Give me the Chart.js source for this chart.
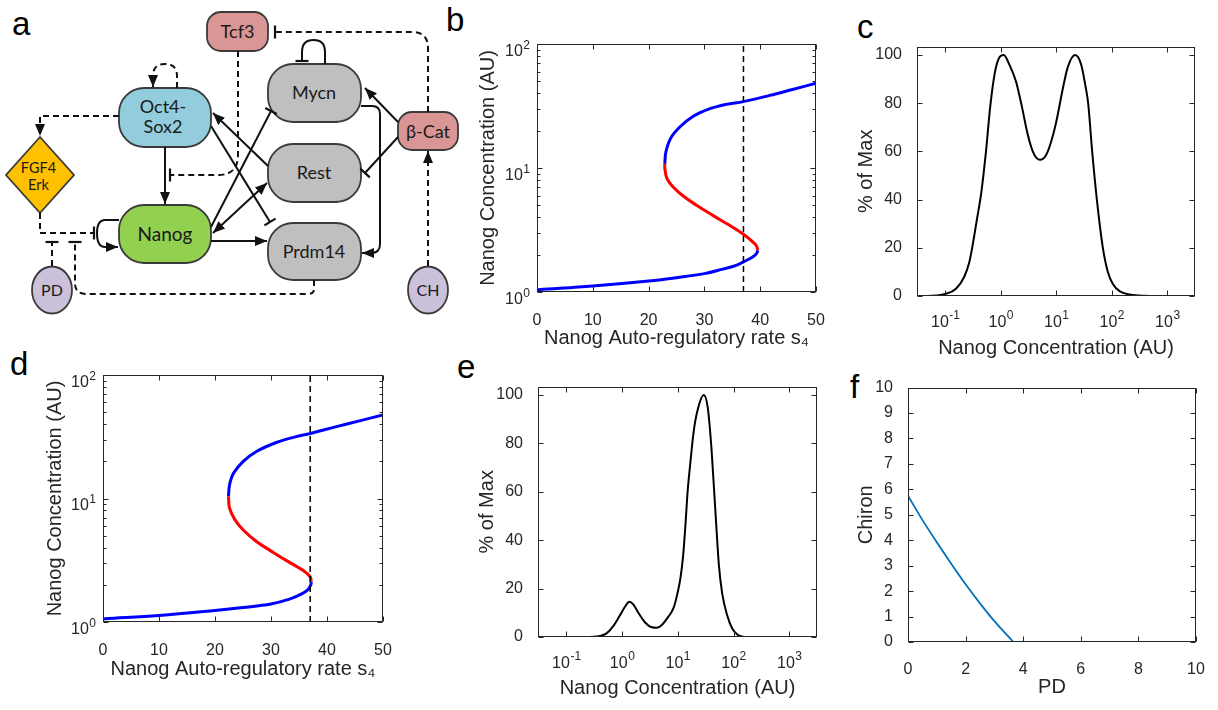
<!DOCTYPE html>
<html><head><meta charset="utf-8">
<script src="https://cdn.jsdelivr.net/npm/chart.js@4/dist/chart.umd.min.js"></script>
<style>
body{margin:0;background:#fff;width:1218px;height:710px;position:relative;overflow:hidden;font-family:"Liberation Sans",Arial,sans-serif}
canvas{position:absolute}
.lbl{position:absolute;font-family:"Liberation Sans",Arial,sans-serif;font-size:33px;color:#000;line-height:33px}
svg{position:absolute;left:0;top:0}
svg text{font-family:Lato,"Open Sans",sans-serif;fill:#1a1a1a;text-anchor:middle}
</style></head><body>
<div class="lbl" style="left:12px;top:7px">a</div>
<div class="lbl" style="left:446px;top:3px">b</div>
<div class="lbl" style="left:857px;top:10px">c</div>
<div class="lbl" style="left:10px;top:347px">d</div>
<div class="lbl" style="left:457px;top:350px">e</div>
<div class="lbl" style="left:850px;top:370px">f</div>

<svg width="470" height="330" viewBox="0 0 470 330">
<defs>
<marker id="ar" markerWidth="13" markerHeight="12" refX="12" refY="6" orient="auto-start-reverse" markerUnits="userSpaceOnUse"><path d="M0,1 L12,6 L0,11 z" fill="#111"/></marker>
<marker id="tb" markerWidth="4" markerHeight="15" refX="2" refY="7.5" orient="auto" markerUnits="userSpaceOnUse"><path d="M2,1 L2,14" stroke="#111" stroke-width="2.2"/></marker>
</defs>
<g stroke="#3a3a3a" stroke-width="1.8">
<rect x="207" y="12" width="61" height="39" rx="14" fill="#d99694"/>
<rect x="119" y="88" width="92" height="59" rx="25" fill="#93cddd"/>
<rect x="268" y="64" width="93" height="58" rx="25" fill="#bfbfbf"/>
<rect x="268" y="144" width="93" height="58" rx="25" fill="#bfbfbf"/>
<rect x="268" y="223" width="93" height="57" rx="25" fill="#bfbfbf"/>
<rect x="119" y="205" width="92" height="58" rx="25" fill="#92d050"/>
<rect x="398" y="112" width="60" height="38" rx="14" fill="#d99694"/>
<polygon points="40,137 74,175 40,213 6,175" fill="#ffc000"/>
<ellipse cx="52" cy="290" rx="20" ry="23.5" fill="#ccc1da"/>
<ellipse cx="428" cy="290" rx="20" ry="23.5" fill="#ccc1da"/>
</g>
<g fill="none" stroke="#111" stroke-width="2">
<path d="M165,147 L165,204" marker-end="url(#ar)"/>
<path d="M211,241 L267,241" marker-end="url(#ar)"/>
<path d="M211,227 L271,111" marker-end="url(#tb)"/>
<path d="M213,233 L267,183" marker-start="url(#ar)" marker-end="url(#ar)"/>
<path d="M268,166 L213,113" marker-end="url(#ar)"/>
<path d="M211,126 L270,222" marker-end="url(#tb)"/>
<path d="M361,106 L372,106 Q380,106 380,114 L380,244 Q380,253 371,253 L362,253" marker-end="url(#ar)"/>
<path d="M325,64 L325,52 Q325,40 313.5,40 Q302,40 302,52 L302,61" marker-end="url(#tb)"/>
<path d="M398,122 L365,88" marker-end="url(#ar)"/>
<path d="M398,137 L365,173" marker-end="url(#tb)"/>
<path d="M119,220 L105,220 Q97,220 97,233 Q97,247 105,247 L118,247" marker-end="url(#ar)"/>
</g>
<g fill="none" stroke="#111" stroke-width="2" stroke-dasharray="6 4">
<path d="M238,51 L238,155 Q238,175 218,175 L170,175" marker-end="url(#tb)"/>
<path d="M177,88 L177,76 Q177,64 165,64 Q153,64 153,76 L153,87" marker-end="url(#ar)"/>
<path d="M119,116 L40,116 L40,136" marker-end="url(#ar)"/>
<path d="M40,213 L40,233 L94,233" marker-end="url(#tb)"/>
<path d="M52,266 L52,242" marker-end="url(#tb)"/>
<path d="M314,280 L314,289 Q314,294 308,294 L86,294 Q75,294 75,283 L75,242" marker-end="url(#tb)"/>
<path d="M428,112 L428,48 Q428,32 412,32 L275,32" marker-end="url(#tb)"/>
<path d="M428,266 L428,151" marker-end="url(#ar)"/>
</g>
<text x="237.5" y="38" font-size="18">Tcf3</text>
<text x="163" y="113" font-size="18">Oct4-</text>
<text x="163" y="133" font-size="18">Sox2</text>
<text x="314" y="99" font-size="18">Mycn</text>
<text x="314" y="179" font-size="18">Rest</text>
<text x="314" y="258" font-size="18">Prdm14</text>
<text x="165" y="241" font-size="19">Nanog</text>
<text x="428" y="138" font-size="18">β-Cat</text>
<text x="38.5" y="173" font-size="14.5">FGF4</text>
<text x="38.5" y="190" font-size="14.5">Erk</text>
<text x="52" y="296" font-size="16">PD</text>
<text x="428" y="296" font-size="16">CH</text>
</svg>

<script>
// ---------- DATA ----------
// panel b : bifurcation (s4 vs Nanog)
const bLowS  = [0, 0.3, 10, 20, 25, 30, 33.3, 35.7, 37.0, 38.5, 39.3, 39.6];
const bLowN  = [1.04, 1.044, 1.118, 1.227, 1.305, 1.406, 1.53, 1.64, 1.75, 1.90, 2.03, 2.17];
const bMidS  = [39.6, 39.2, 37.0, 34.5, 31.5, 28.6, 26.2, 24.4, 23.3, 22.9, 22.9];
const bMidN  = [2.17, 2.40, 2.92, 3.45, 4.15, 5.0, 5.94, 7.03, 8.2, 10.0, 10.8];
const bHighS = [22.9, 23.1, 24.0, 25.6, 28.0, 31.0, 33.9, 37.0, 41.7, 45.8, 50];
const bHighN = [10.8, 13.5, 17.5, 21.4, 26.1, 30.1, 32.6, 34.3, 38.5, 43.0, 48.2];
const bDash  = 37;
// panel d
const dLowS  = [0, 0.3, 10, 20, 25, 30, 33.3, 35.4, 36.6, 37.1, 37.2];
const dLowN  = [1.06, 1.064, 1.13, 1.24, 1.31, 1.40, 1.53, 1.68, 1.83, 2.0, 2.13];
const dMidS  = [37.2, 37.0, 35.7, 33.3, 30.4, 27.4, 25.0, 23.5, 22.6, 22.4];
const dMidN  = [2.13, 2.32, 2.62, 3.04, 3.66, 4.49, 5.58, 6.81, 8.36, 10.4];
const dHighS = [22.4, 22.6, 23.3, 25.0, 27.4, 30.95, 34.5, 37.2, 41.7, 45.8, 50];
const dHighN = [10.4, 12.9, 16.0, 19.9, 24.0, 28.4, 31.7, 33.8, 38.2, 42.5, 47.5];
const dDash  = 37;
// panel c : distribution (bimodal)
const cConc = [0.040,0.068,0.100,0.156,0.220,0.271,0.311,0.367,0.440,0.492,0.542,0.649,0.787,0.942,1.13,1.43,1.88,2.38,3.06,3.77,4.40,5.11,6.56,8.07,9.93,13.1,16.1,21.9,28.1,33.6,37.5,44.3,53.8,69.0,84.9,104.6,138,209,364,959];
const cPct  = [0,0.2,0.8,3,8,14,21,31,42,51,60,79,93,99,100,96,89,79,67,60,57.3,56.5,58.5,64,72,86,95,100,96,87,80,60,40,20,10,5,2,0.6,0.1,0];
// panel e : distribution (mostly high)
const eConc = [0.264,0.399,0.527,0.695,0.917,1.127,1.35,1.59,1.96,2.59,3.41,4.21,5.18,6.82,8.40,9.64,11.1,12.4,13.6,15.0,16.8,19.3,22.8,29.2,34.4,39.6,44.2,49.4,54.5,62.6,76.9,94.8,117,154];
const ePct  = [0,0.4,1.5,4.5,9,12.5,14.6,13.5,10,6,4,3.8,5,8.5,12,17,24,33,45,60,72,85,94,100,95,80,63,45,30,18,9,3.5,1,0];
// panel f
const fPD     = [0, 0.5, 1.0, 1.5, 2.0, 2.5, 3.0, 3.66];
const fChiron = [5.75, 4.8, 3.92, 3.08, 2.27, 1.52, 0.82, 0];
// tick labels
const linTicks50 = [0,10,20,30,40,50];
const logDecades = [0.1,1,10,100,1000];
const logDecadeExp = ['-1','0','1','2','3'];
const pctTicks = [0,20,40,60,80,100];
const fXTicks = [0,2,4,6,8,10];
const fYTicks = [0,1,2,3,4,5,6,7,8,9,10];
const bifYTicks = [1,2,3,4,5,6,7,8,9,10,20,30,40,50,60,70,80,90,100];
const bifYExp = {1:'0',10:'1',100:'2'};

// ---------- helpers ----------
const TXT = '#262626';
const FONT = "'Liberation Sans', Arial, Helvetica, sans-serif";
const pts = (xs, ys) => xs.map((x,i)=>({x, y: ys[i]}));

// draws box, inward tick marks, and "10^n" style tick labels with real superscripts
const boxPlugin = {
  id: 'boxTicks',
  afterDatasetsDraw(chart) {
    const {ctx, chartArea: a} = chart;
    const L = Math.round(a.left)+0.5, R = Math.round(a.right)-0.5;
    const T = Math.round(a.top)+0.5, B = Math.round(a.bottom)-0.5;
    ctx.save();
    ctx.strokeStyle = TXT; ctx.lineWidth = 1;
    const ln = (x1,y1,x2,y2)=>{ctx.beginPath();ctx.moveTo(x1,y1);ctx.lineTo(x2,y2);ctx.stroke();};
    const xs = chart.scales.x, ys = chart.scales.y;
    xs.ticks.forEach(t=>{ const p = Math.round(xs.getPixelForValue(t.value))+0.5; const len = t.mn?3:5;
      ln(p,B,p,B-len); ln(p,T,p,T+len); });
    ys.ticks.forEach(t=>{ const p = Math.round(ys.getPixelForValue(t.value))+0.5; const len = t.mn?3:5;
      ln(L,p,L+len,p); ln(R,p,R-len,p); });
    ctx.strokeRect(L, T, R-L, B-T);
    // power-of-ten labels
    ctx.fillStyle = TXT; ctx.textBaseline = 'alphabetic';
    const baseF = '16px ' + FONT, expF = '12px ' + FONT;
    if (chart.$supX) {
      xs.ticks.forEach(t=>{ if (t.ex === undefined) return;
        const p = xs.getPixelForValue(t.value);
        ctx.font = baseF; const w1 = ctx.measureText('10').width;
        ctx.font = expF; const w2 = ctx.measureText(t.ex).width;
        const x0 = p - (w1+w2)/2;
        ctx.textAlign = 'left';
        ctx.font = baseF; ctx.fillText('10', x0, a.bottom + 31);
        ctx.font = expF; ctx.fillText(t.ex, x0 + w1 + 0.5, a.bottom + 23);
      });
    }
    if (chart.$supY) {
      ys.ticks.forEach(t=>{ if (t.ex === undefined) return;
        const p = ys.getPixelForValue(t.value);
        ctx.font = expF; const w2 = ctx.measureText(t.ex).width;
        const xr = a.left - 7;
        ctx.textAlign = 'right';
        ctx.fillText(t.ex, xr, p + 4.5);
        ctx.font = baseF; ctx.fillText('10', xr - w2 - 0.5, p + 11.7);
      });
    }
    ctx.restore();
  }
};

function makeChart(rect, m, datasets, xo, yo) {
  const [L,T,R,B] = rect;
  const W = R-L+m.l+m.r, H = B-T+m.t+m.b;
  const c = document.createElement('canvas');
  c.width = W; c.height = H;
  Object.assign(c.style, {left:(L-m.l)+'px', top:(T-m.t)+'px', width:W+'px', height:H+'px'});
  document.body.appendChild(c);
  const mk = (o, isX) => ({
    type: o.type, min: o.min, max: o.max, bounds: 'data',
    grid: {display:false}, border: {display:false},
    title: {display:true, text:o.title, color:TXT, font:{family:FONT, size:20}, padding:0},
    ticks: {display: !o.sup, color:TXT, font:{family:FONT, size:16}, padding:o.pad, autoSkip:false,
            maxRotation:0, minRotation:0,
            callback:(v,i,ts)=>ts[i].lab},
    afterBuildTicks: s => { s.ticks = o.ticks.map(t=>({value:t.v, lab:t.l, mn:t.mn, ex:t.ex})); },
    afterFit: s => { if (isX) s.height = m.b; else s.width = m.l; }
  });
  const ch = new Chart(c, {
    type: 'scatter',
    data: {datasets},
    options: {
      responsive:false, animation:false,
      layout:{padding:{left:0, top:m.t, right:m.r, bottom:0}},
      plugins:{legend:{display:false}, tooltip:{enabled:false}},
      elements:{point:{radius:0, hoverRadius:0}},
      scales:{x:mk(xo,true), y:mk(yo,false)}
    },
    plugins:[{id:'flags', beforeInit(chart){ chart.$supX = !!xo.sup; chart.$supY = !!yo.sup; }}, boxPlugin]
  });
  return ch;
}

const line = (data, color, w, extra) => Object.assign({data, showLine:true, borderColor:color, backgroundColor:color,
  borderWidth:w, tension:0.38, fill:false, pointRadius:0}, extra||{});
const mono = {cubicInterpolationMode:'monotone'};

const linTickObjs = arr => arr.map(v=>({v, l:String(v)}));
const bifY = bifYTicks.map(v=>({v, l:'', mn:!(v in bifYExp), ex:bifYExp[v]}));
const decX = logDecades.map((v,i)=>({v, l:'', ex:logDecadeExp[i]}));
const s4Title = 'Nanog Auto-regulatory rate s₄';

// panel b
makeChart([537,44,816,292], {l:61,t:14,r:22,b:58}, [
  line([{x:bDash,y:1},{x:bDash,y:100}], '#000', 1.5, {borderDash:[6,4], tension:0}),
  line(pts(bLowS,bLowN), '#0000ff', 3),
  line(pts(bMidS,bMidN), '#ff0000', 3),
  line(pts(bHighS,bHighN), '#0000ff', 3)
], {type:'linear', min:0, max:50, title:s4Title, pad:11, ticks:linTickObjs(linTicks50)},
   {type:'logarithmic', min:1, max:100, title:'Nanog Concentration (AU)', sup:true, ticks:bifY});

// panel c
makeChart([917,44,1195,296], {l:63,t:14,r:20,b:64}, [
  line(pts(cConc,cPct), '#000', 2, mono)
], {type:'logarithmic', min:0.031, max:3150, title:'Nanog Concentration (AU)', sup:true, ticks:decX},
   {type:'linear', min:0, max:103.5, title:'% of Max', pad:7, ticks:linTickObjs(pctTicks)});

// panel d
makeChart([103,375,383,622], {l:60,t:14,r:22,b:59}, [
  line([{x:dDash,y:1},{x:dDash,y:100}], '#000', 1.5, {borderDash:[6,4], tension:0}),
  line(pts(dLowS,dLowN), '#0000ff', 3),
  line(pts(dMidS,dMidN), '#ff0000', 3),
  line(pts(dHighS,dHighN), '#0000ff', 3)
], {type:'linear', min:0, max:50, title:s4Title, pad:11, ticks:linTickObjs(linTicks50)},
   {type:'logarithmic', min:1, max:100, title:'Nanog Concentration (AU)', sup:true, ticks:bifY});

// panel e
makeChart([538,384,817,637], {l:63,t:14,r:20,b:63}, [
  line(pts(eConc,ePct), '#000', 2, mono)
], {type:'logarithmic', min:0.031, max:3150, title:'Nanog Concentration (AU)', sup:true, ticks:decX},
   {type:'linear', min:0, max:103.5, title:'% of Max', pad:7, ticks:linTickObjs(pctTicks)});

// panel f
makeChart([908,385,1196,642], {l:54,t:14,r:20,b:57}, [
  line(pts(fPD,fChiron), '#0072bd', 1.8, mono)
], {type:'linear', min:0, max:10, title:'PD', pad:10, ticks:linTickObjs(fXTicks)},
   {type:'linear', min:0, max:10, title:'Chiron', pad:7, ticks:linTickObjs(fYTicks)});
</script>
</body></html>
